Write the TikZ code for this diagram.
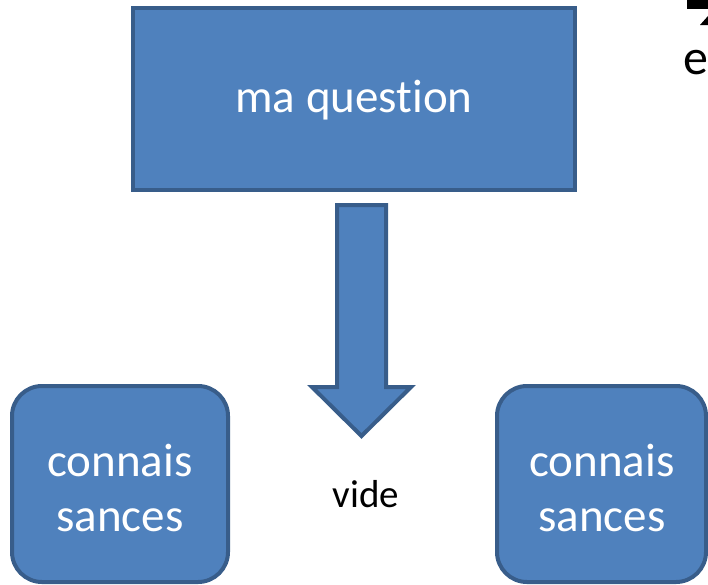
\documentclass[tikz,border=0pt]{standalone}
\usepackage{fontspec}
\setmainfont[Ligatures=NoCommon]{Carlito}
\definecolor{boxfill}{HTML}{4F81BD}
\definecolor{boxline}{HTML}{385D8A}
\begin{document}
\begin{tikzpicture}[x=1pt,y=-1pt,
  blue/.style={fill=boxfill,draw=boxline,line width=4pt},
  big/.style={font=\fontsize{47}{55}\selectfont,text=white,align=center,inner sep=0pt}]
\useasboundingbox (0,0) rectangle (708,584);
% top box
\path[blue] (133,8) rectangle (575,190);
\node[big] (q) at (354,100) {ma question};
% arrow
\path[blue,line join=miter] (337,205) -- (386,205) -- (386,387) -- (411,387) -- (361.5,436) -- (312,387) -- (337,387) -- cycle;
\coordinate (tip) at (361.5,436);
% left box
\path[blue,rounded corners=30pt] (12,386) rectangle (228,582);
\node[big] (k1) at (120,488) {connais\\sances};
% right box
\path[blue,rounded corners=30pt] (497,386) rectangle (706,582);
\node[big] (k2) at (602,488) {connais\\sances};
% vide
\node[font=\fontsize{39}{45}\selectfont,inner sep=0pt] (v) at (366,494) {vide};
% top right fragments
\fill[black] (687,0) rectangle (708,9);
\fill[black] (700,25) -- (708,16) -- (708,25) -- cycle;
\node[font=\fontsize{50}{58}\selectfont,inner sep=0pt,anchor=base west] (e) at (683,74) {e};
\end{tikzpicture}
\end{document}
